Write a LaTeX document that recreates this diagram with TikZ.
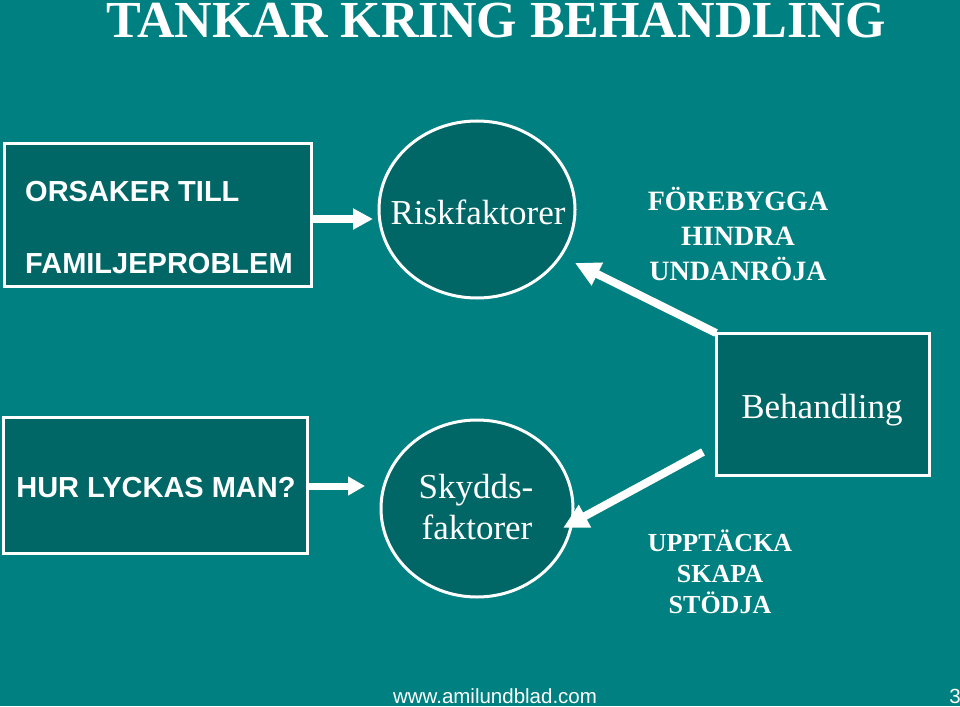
\documentclass[tikz,border=0pt]{standalone}
\usepackage{fontspec}
\usepackage{graphicx}
\setmainfont{Liberation Serif}
\setsansfont{Liberation Sans}
\usetikzlibrary{arrows.meta,shapes.geometric}
\definecolor{bg}{RGB}{0,128,128}
\definecolor{boxfill}{RGB}{0,102,102}
\begin{document}
\begin{tikzpicture}[x=1pt,y=-1pt,
  box/.style={draw=white, line width=3pt, fill=boxfill, rectangle, inner sep=0pt, outer sep=0pt},
  oval/.style={draw=white, line width=3pt, fill=boxfill, ellipse, inner sep=0pt, outer sep=0pt},
  arrA/.style={draw=white, line width=8pt, -{Triangle[length=20pt,width=20pt]}},
  arrS/.style={draw=white, line width=7pt, -{Triangle[length=17pt,width=18pt]}},
  arrB/.style={draw=white, line width=8pt, -{Triangle[length=25pt,width=24pt]}},
  lbl/.style={text=white, inner sep=0pt, anchor=base},
  sansbig/.style={font=\sffamily\bfseries\fontsize{29}{34}\selectfont},
  serifbig/.style={font=\fontsize{35}{40}\selectfont},
  serifbold/.style={font=\bfseries\fontsize{28}{34}\selectfont},
  serifbolds/.style={font=\bfseries\fontsize{26}{31}\selectfont},
  foot/.style={font=\sffamily\fontsize{20.5}{24}\selectfont}
]
\fill[bg] (0,0) rectangle (960,706);
\useasboundingbox (0,0) rectangle (960,706);

% title
\node[lbl, font=\bfseries\fontsize{52}{60}\selectfont] (title) at (496,37.5) {TANKAR KRING BEHANDLING};

% top row
\node[box, minimum width=307pt, minimum height=143pt] (box1) at (157.5,214.5) {};
\node[lbl, sansbig, anchor=base west] (t1a) at (25,201) {ORSAKER TILL};
\node[lbl, sansbig, anchor=base west] (t1b) at (25,273) {FAMILJEPROBLEM};

\node[oval, minimum width=196pt, minimum height=177pt] (c1) at (477,209.5) {};
\node[lbl, serifbig] (c1t) at (478,224) {Riskfaktorer};

\node[lbl, serifbold] (p1) at (738,210) {FÖREBYGGA};
\node[lbl, serifbold] (p2) at (738,245) {HINDRA};
\node[lbl, serifbold] (p3) at (738,280) {UNDANRÖJA};

% Behandling
\node[box, minimum width=213pt, minimum height=142pt] (beh) at (822.5,404) {};
\node[lbl, serifbig] (beht) at (822,418) {Behandling};

% bottom row
\node[box, minimum width=304pt, minimum height=136pt] (box3) at (155,485) {};
\node[lbl, sansbig] (t3) at (156,497) {HUR LYCKAS MAN?};

\node[oval, minimum width=192pt, minimum height=177pt] (c2) at (477,508.5) {};
\node[lbl, serifbig] (c2a) at (476,498) {Skydds-};
\node[lbl, serifbig] (c2b) at (477,539) {faktorer};

\node[lbl, serifbolds] (u1) at (720,551) {UPPTÄCKA};
\node[lbl, serifbolds] (u2) at (720,582) {SKAPA};
\node[lbl, serifbolds] (u3) at (720,613) {STÖDJA};

% footer
\node[lbl, foot] (web) at (495,703) {www.amilundblad.com};
\node[lbl, foot, anchor=base east] (pg) at (961,703) {3};

% arrows
\draw[arrA] ([yshift=-4.5pt]box1.east) -- ([xshift=-6pt,yshift=-4.5pt]box1.east -| c1.west);
\draw[arrS] ([yshift=-1pt]box3.east) -- ([xshift=-16pt,yshift=-1pt]box3.east -| c2.west);
\coordinate (a2tip) at (575,263);
\draw[arrB] (beh.north west) -- (a2tip);
\coordinate (a3start) at (703,452);
\coordinate (a3tip) at (563,528);
\draw[arrB] (a3start) -- (a3tip);
\end{tikzpicture}
\end{document}
